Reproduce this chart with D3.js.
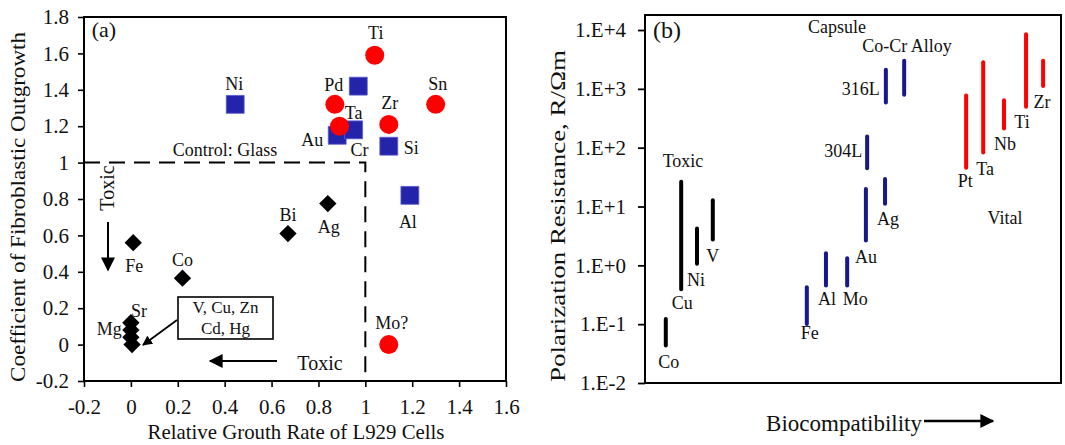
<!DOCTYPE html>
<html><head><meta charset="utf-8">
<script src="https://cdn.jsdelivr.net/npm/d3@7/dist/d3.min.js"></script>
<style>
body{margin:0;background:#fff;}
svg text{font-family:"Liberation Serif","Times New Roman",serif;fill:#111;}
</style></head>
<body><svg id="c" width="1065" height="445"></svg>
<script>
// ---------- Panel (a) data ----------
const redNames = ["Ti","Pd","Ta","Zr","Sn","Mo?"];
const redX = [1.04,0.87,0.89,1.10,1.30,1.10];
const redY = [1.59,1.32,1.20,1.21,1.32,0.00];

const blueNames = ["Ni","","Au","Cr","Si","Al"];
const blueX = [0.445,0.97,0.88,0.95,1.10,1.19];
const blueY = [1.32,1.42,1.15,1.18,1.09,0.82];

const blackNames = ["Ag","Bi","Fe","Co","Sr","Mg","",""];
const blackX = [0.84,0.67,0.01,0.22,0.0,0.0,0.0,0.005];
const blackY = [0.775,0.61,0.56,0.365,0.12,0.08,0.04,0.0];

const xTicksA = [-0.2,0,0.2,0.4,0.6,0.8,1,1.2,1.4,1.6];
const yTicksA = [-0.2,0,0.2,0.4,0.6,0.8,1,1.2,1.4,1.6,1.8];

// ---------- Panel (b) data ----------
const barNames = ["Co","Cu","Ni","V","Fe","Al","Mo","Au","304L","Ag","316L","CoCr","Pt","Ta","Nb","Ti","Zr"];
const barGroup = ["toxic","toxic","toxic","toxic","capsule","capsule","capsule","capsule","capsule","capsule","capsule","capsule","vital","vital","vital","vital","vital"];
const barPos  = [5.0,8.7,12.5,16.3,38.9,43.5,48.6,53.1,53.4,57.7,57.9,62.3,77.2,81.3,86.3,91.6,95.7];
const barLow  = [0.041,0.37,1.0,2.6,0.095,0.43,0.43,2.5,42,10.5,550,750,43,78,200,470,1050];
const barHigh = [0.13,28,4.5,13.5,0.45,1.7,1.4,21,165,31,2250,3200,820,3000,680,9000,3200];
const yTicksB = [1e-2,1e-1,1e0,1e1,1e2,1e3,1e4];
const yTickLabelsB = ["1.E-2","1.E-1","1.E+0","1.E+1","1.E+2","1.E+3","1.E+4"];

// ---------- drawing ----------
const svg = d3.select("#c");
const defs = svg.append("defs");
defs.append("marker").attr("id","ah").attr("viewBox","0 0 10 10").attr("refX",9).attr("refY",5)
  .attr("markerWidth",10).attr("markerHeight",10).attr("markerUnits","userSpaceOnUse").attr("orient","auto")
  .append("path").attr("d","M0,0 L10,5 L0,10 Z").attr("fill","#000");
defs.append("marker").attr("id","ahBig").attr("viewBox","0 0 10 10").attr("refX",9).attr("refY",5)
  .attr("markerWidth",16).attr("markerHeight",14).attr("markerUnits","userSpaceOnUse").attr("orient","auto")
  .append("path").attr("d","M0,0 L10,5 L0,10 Z").attr("fill","#000");

const RED="#ff0000", BLUE="#2424aa", NAVY="#17178e";

// Panel (a)
const xA = d3.scaleLinear().domain([-0.2,1.6]).range([84,506]);
const yA = d3.scaleLinear().domain([-0.2,1.8]).range([381,17]);
const fmt = d => String(+d.toFixed(1));

const gA = svg.append("g");
const axB = gA.append("g").attr("transform",`translate(0,${yA(-0.2)})`)
  .call(d3.axisBottom(xA).tickValues(xTicksA).tickFormat(fmt).tickSize(6).tickSizeOuter(0).tickPadding(12));
const axL = gA.append("g").attr("transform",`translate(${xA(-0.2)},0)`)
  .call(d3.axisLeft(yA).tickValues(yTicksA).tickFormat(fmt).tickSize(6).tickSizeOuter(0).tickPadding(9));
[axB,axL].forEach(a=>{a.select(".domain").remove();a.selectAll("line").attr("stroke","#000").attr("stroke-width",1.6);
  a.selectAll("text").style("font-size","21px").attr("fill","#111");});
gA.append("rect").attr("x",xA(-0.2)).attr("y",yA(1.8)).attr("width",xA(1.6)-xA(-0.2)).attr("height",yA(-0.2)-yA(1.8))
  .attr("fill","none").attr("stroke","#000").attr("stroke-width",2);

// dashed control lines
gA.append("path").attr("d",`M${xA(-0.2)},${yA(1)}H${xA(1)}V${yA(-0.2)}`).attr("fill","none")
  .attr("stroke","#000").attr("stroke-width",2).attr("stroke-dasharray","16,9");

// points
blackX.forEach((x,i)=>{
  gA.append("path").attr("d",d3.symbol().type(d3.symbolSquare).size(150)()).attr("fill","#000")
    .attr("transform",`translate(${xA(x)},${yA(blackY[i])}) rotate(45)`);
});
blueX.forEach((x,i)=>{
  gA.append("path").attr("d",d3.symbol().type(d3.symbolSquare).size(320)()).attr("fill",BLUE)
    .attr("stroke","#5a5ad0").attr("stroke-width",0.8)
    .attr("transform",`translate(${xA(x)},${yA(blueY[i])})`);
});
redX.forEach((x,i)=>{
  gA.append("circle").attr("cx",xA(x)).attr("cy",yA(redY[i])).attr("r",9.5).attr("fill",RED);
});

// point labels (pixel offsets from the marker: dx, dy, anchor)
const offA = {
  "Ti":[1,-16,"middle"],"Pd":[-1,-13,"middle"],"Ta":[14,-7,"middle"],"Zr":[1,-15,"middle"],"Sn":[2,-14,"middle"],"Mo?":[3,-16,"middle"],
  "Ni":[-1,-14,"middle"],"Au":[-14,11,"end"],"Cr":[6,26,"middle"],"Si":[15,8,"start"],"Al":[-2,33,"middle"],
  "Ag":[1,29,"middle"],"Bi":[0,-13,"middle"],"Fe":[1,29,"middle"],"Co":[0,-12,"middle"],"Sr":[8,-6,"middle"],"Mg":[-9,5,"end"]
};
const labA = (names,xs,ys)=>names.forEach((n,i)=>{
  if(!n) return; const o=offA[n];
  gA.append("text").attr("x",xA(xs[i])+o[0]).attr("y",yA(ys[i])+o[1]).attr("text-anchor",o[2])
    .style("font-size","18px").text(n);
});
labA(redNames,redX,redY); labA(blueNames,blueX,blueY); labA(blackNames,blackX,blackY);

gA.append("text").attr("x",225).attr("y",156).attr("text-anchor","middle").style("font-size","18px").text("Control: Glass");
gA.append("text").attr("x",104).attr("y",37).attr("text-anchor","middle").style("font-size","22px").text("(a)");

// Toxic annotations
gA.append("text").attr("transform","translate(114,188) rotate(-90)").attr("text-anchor","middle").style("font-size","20px").text("Toxic");
gA.append("line").attr("x1",108).attr("y1",222).attr("x2",108).attr("y2",270).attr("stroke","#000").attr("stroke-width",2).attr("marker-end","url(#ahBig)");
gA.append("text").attr("x",320).attr("y",370).attr("text-anchor","middle").style("font-size","20px").text("Toxic");
gA.append("line").attr("x1",277).attr("y1",361).attr("x2",210).attr("y2",361).attr("stroke","#000").attr("stroke-width",2).attr("marker-end","url(#ahBig)");

// boxed note
gA.append("rect").attr("x",178).attr("y",297).attr("width",95).attr("height",42).attr("fill","#fff").attr("stroke","#000").attr("stroke-width",1.6);
gA.append("text").attr("x",225.5).attr("y",313).attr("text-anchor","middle").style("font-size","17px").text("V, Cu, Zn");
gA.append("text").attr("x",225.5).attr("y",334).attr("text-anchor","middle").style("font-size","17px").text("Cd, Hg");
gA.append("line").attr("x1",177).attr("y1",320).attr("x2",143).attr("y2",345).attr("stroke","#000").attr("stroke-width",1.8).attr("marker-end","url(#ah)");

// axis titles
gA.append("text").attr("x",296).attr("y",439).attr("text-anchor","middle").style("font-size","21px")
  .attr("textLength",297).attr("lengthAdjust","spacingAndGlyphs").text("Relative Grouth Rate of L929 Cells");
gA.append("text").attr("transform","translate(25,207) rotate(-90)").attr("text-anchor","middle").style("font-size","22px")
  .attr("textLength",350).attr("lengthAdjust","spacingAndGlyphs").text("Coefficient of Fibroblastic Outgrowth");

// Panel (b)
const xB = d3.scaleLinear().domain([0,100]).range([645,1061]);
const yB = d3.scaleLog().domain([0.01,18000]).range([383,15]);
const gB = svg.append("g");
const axBL = gB.append("g").attr("transform",`translate(${xB(0)},0)`)
  .call(d3.axisLeft(yB).tickValues(yTicksB).tickFormat((d,i)=>yTickLabelsB[i]).tickSize(7).tickSizeOuter(0).tickPadding(12));
axBL.select(".domain").remove();
axBL.selectAll("line").attr("stroke","#000").attr("stroke-width",1.8);
axBL.selectAll("text").style("font-size","21px").attr("fill","#111");
gB.append("rect").attr("x",xB(0)).attr("y",yB(18000)).attr("width",xB(100)-xB(0)).attr("height",yB(0.01)-yB(18000))
  .attr("fill","none").attr("stroke","#000").attr("stroke-width",2);

const colB = {toxic:"#000",capsule:NAVY,vital:RED};
barPos.forEach((p,i)=>{
  gB.append("line").attr("x1",xB(p)).attr("x2",xB(p)).attr("y1",yB(barLow[i])-1.5).attr("y2",yB(barHigh[i])+1.5)
    .attr("stroke",colB[barGroup[i]]).attr("stroke-width",4).attr("stroke-linecap","round");
});
// labels below each bar (dx, dy from bar bottom)
const offB = {"Co":[3,21],"Cu":[1,18],"Ni":[-1,21],"V":[0,21],"Fe":[3,14],"Al":[1,18],"Mo":[8,18],"Au":[0,21],"Ag":[3,20],
  "Pt":[-1,18],"Ta":[2,21],"Nb":[1,20],"Ti":[-4,20],"Zr":[-1,20]};
barNames.forEach((n,i)=>{
  const o=offB[n]; if(!o) return;
  gB.append("text").attr("x",xB(barPos[i])+o[0]).attr("y",yB(barLow[i])+o[1]).attr("text-anchor","middle")
    .style("font-size","18px").text(n);
});
// side labels for steels
const iL304 = barNames.indexOf("304L"), iL316 = barNames.indexOf("316L");
gB.append("text").attr("x",xB(barPos[iL304])-5).attr("y",(yB(barLow[iL304])+yB(barHigh[iL304]))/2+5)
  .attr("text-anchor","end").style("font-size","18px").text("304L");
gB.append("text").attr("x",xB(barPos[iL316])-6).attr("y",(yB(barLow[iL316])+yB(barHigh[iL316]))/2+9)
  .attr("text-anchor","end").style("font-size","18px").text("316L");

gB.append("text").attr("x",907).attr("y",52).attr("text-anchor","middle").style("font-size","18px").text("Co-Cr Alloy");
gB.append("text").attr("x",837).attr("y",33).attr("text-anchor","middle").style("font-size","18px").text("Capsule");
gB.append("text").attr("x",683).attr("y",167).attr("text-anchor","middle").style("font-size","18px").text("Toxic");
gB.append("text").attr("x",1005).attr("y",224).attr("text-anchor","middle").style("font-size","18px").text("Vital");
gB.append("text").attr("x",667).attr("y",38).attr("text-anchor","middle").style("font-size","24px").text("(b)");

gB.append("text").attr("transform","translate(565,216) rotate(-90)").attr("text-anchor","middle").style("font-size","21px")
  .attr("textLength",332).attr("lengthAdjust","spacingAndGlyphs").text("Polarization Resistance, R/Ωm");
gB.append("text").attr("x",922).attr("y",431).attr("text-anchor","end").style("font-size","23px").text("Biocompatibility");
gB.append("line").attr("x1",924).attr("y1",421).attr("x2",993).attr("y2",421).attr("stroke","#000").attr("stroke-width",2.5).attr("marker-end","url(#ahBig)");

svg.selectAll("text").style("font-family","'Liberation Serif','Times New Roman',serif");
</script></body></html>
